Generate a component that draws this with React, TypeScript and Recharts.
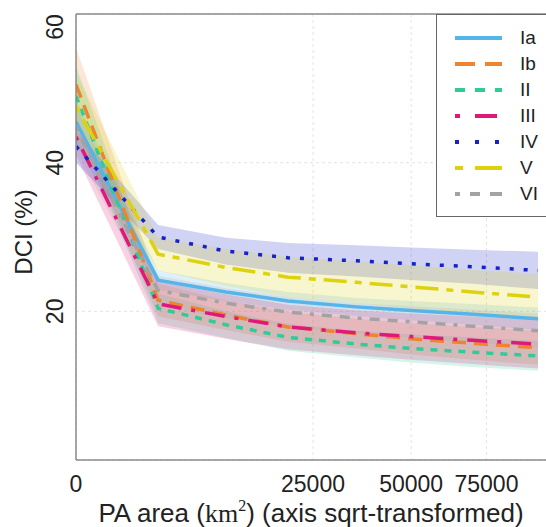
import {
  Area,
  CartesianGrid,
  ComposedChart,
  Legend,
  Line,
  ReferenceLine,
  XAxis,
  YAxis,
} from 'recharts';

// PA area (km2) at which the fitted curves are read
const paArea = [0, 3000, 10000, 20000, 35000, 50000, 70000, 95000];

// fitted DCI (%) per IUCN category
const dciIa = [45.5, 24.2, 22.6, 21.4, 20.6, 20.1, 19.6, 19.0];
const dciIb = [50.5, 21.5, 19.5, 17.9, 17.0, 16.3, 15.7, 15.1];
const dciII = [49.0, 20.4, 18.2, 16.5, 15.6, 15.0, 14.5, 14.0];
const dciIII = [43.5, 21.0, 19.3, 17.9, 17.1, 16.6, 16.1, 15.6];
const dciIV = [42.2, 30.0, 28.1, 27.2, 26.8, 26.4, 26.0, 25.5];
const dciV = [47.6, 27.7, 25.9, 24.6, 23.9, 23.3, 22.6, 21.9];
const dciVI = [44.7, 22.8, 21.1, 19.9, 19.1, 18.6, 18.0, 17.4];

// half width of the confidence ribbons
const ciIa = [3.0, 1.3, 1.2, 1.2, 1.2, 1.3, 1.4, 1.5];
const ciIb = [5.0, 2.2, 2.0, 2.0, 2.0, 2.1, 2.2, 2.3];
const ciII = [4.0, 2.0, 1.8, 1.8, 1.8, 1.9, 2.0, 2.0];
const ciIII = [2.5, 3.0, 3.0, 3.0, 3.0, 3.1, 3.2, 3.3];
const ciIV = [2.2, 1.6, 1.8, 2.0, 2.1, 2.2, 2.3, 2.5];
const ciV = [4.5, 2.2, 2.5, 2.7, 2.8, 2.9, 3.0, 3.1];
const ciVI = [3.0, 2.0, 2.0, 2.0, 2.0, 2.1, 2.2, 2.3];

const categories = ['Ia', 'Ib', 'II', 'III', 'IV', 'V', 'VI'];
const xTicks = [0, 25000, 50000, 75000];
const yTicks = [20, 40, 60];

const FONT = "'Liberation Sans', Arial, sans-serif";
const SERIF = "'Liberation Serif', 'DejaVu Serif', serif";
const PLOT_TOP = 14;
const FRAME = { stroke: '#8a8a8a', strokeWidth: 1.5 };

const styles = [
  { color: '#56B4E9', dash: undefined, legendDash: undefined },
  { color: '#EE8330', dash: '14 8', legendDash: '20 10' },
  { color: '#2FCB98', dash: '7 7', legendDash: '10 10' },
  { color: '#E0187C', dash: '4 10 20 10', legendDash: '5 15 22 15' },
  { color: '#1522C8', dash: '4 10', legendDash: '4 16' },
  { color: '#DCD20E', dash: '7 8 23 8', legendDash: '8 12 27 12' },
  { color: '#A3A3A3', dash: '4 8 10 8 10 8', legendDash: '5 10 10 10 12 10' },
];

const means = [dciIa, dciIb, dciII, dciIII, dciIV, dciV, dciVI];
const halfWidths = [ciIa, ciIb, ciII, ciIII, ciIV, ciV, ciVI];

const series = categories.map((name, k) => ({
  name,
  mean: means[k],
  ci: halfWidths[k],
  ...styles[k],
}));

const data = paArea.map((pa, i) => {
  const row: Record<string, number | number[]> = { pa };
  series.forEach((s) => {
    row[s.name] = s.mean[i];
    row[`${s.name}_ci`] = [s.mean[i] - s.ci[i], s.mean[i] + s.ci[i]];
  });
  return row;
});

function XTick({ x, y, payload }: any) {
  return (
    <text x={x} y={y + 32} textAnchor="middle" fontSize={23} fill="#222" fontFamily={FONT}>
      {payload.value}
    </text>
  );
}

function YTick({ x, y, payload }: any) {
  const cx = x - 13;
  const cy = Math.max(y, PLOT_TOP + 13);
  return (
    <text
      x={cx}
      y={cy}
      transform={`rotate(-90 ${cx} ${cy})`}
      textAnchor="middle"
      fontSize={23}
      fill="#222"
      fontFamily={FONT}
    >
      {payload.value}
    </text>
  );
}

function XTitle() {
  return (
    <text x={311} y={522} textAnchor="middle" fontSize={26} fill="#222" fontFamily={FONT}>
      PA area (
      <tspan fontFamily={SERIF}>km</tspan>
      <tspan fontFamily={SERIF} fontSize={16} dy={-11}>
        2
      </tspan>
      <tspan dy={11}>) (axis sqrt-transformed)</tspan>
    </text>
  );
}

function YTitle({ viewBox }: any) {
  const cy = viewBox.y + viewBox.height / 2 - 5;
  return (
    <text
      x={32}
      y={cy}
      transform={`rotate(-90 32 ${cy})`}
      textAnchor="middle"
      fontSize={24}
      fill="#222"
      fontFamily={FONT}
    >
      DCI (%)
    </text>
  );
}

function LegendBox() {
  return (
    <div
      style={{
        width: 200,
        height: 203,
        boxSizing: 'border-box',
        border: '1px solid #666',
        borderRight: 'none',
        background: '#fff',
        paddingTop: 10,
        fontFamily: FONT,
      }}
    >
      {series.map((s) => (
        <div key={s.name} style={{ display: 'flex', alignItems: 'center', height: 26 }}>
          <svg width={47} height={10} style={{ marginLeft: 18, flex: 'none' }}>
            <line x1={0} y1={5} x2={47} y2={5} stroke={s.color} strokeWidth={4} strokeDasharray={s.legendDash} />
          </svg>
          <span style={{ marginLeft: 18, fontSize: 19, color: '#222', lineHeight: '26px' }}>{s.name}</span>
        </div>
      ))}
    </div>
  );
}

export default function App() {
  return (
    <div
      style={{
        position: 'absolute',
        left: 0,
        top: 0,
        width: 546,
        height: 527,
        overflow: 'hidden',
        background: '#fff',
      }}
    >
      <div style={{ width: 550, height: 527 }}>
        <ComposedChart width={550} height={527} data={data} margin={{ top: PLOT_TOP, right: 0, bottom: 0, left: 0 }}>
          <CartesianGrid stroke="#e4e4e4" strokeDasharray="3 3" />
          <XAxis
            dataKey="pa"
            type="number"
            scale="sqrt"
            domain={[0, 100000]}
            ticks={xTicks}
            allowDataOverflow
            axisLine={FRAME}
            tickLine={false}
            tickSize={0}
            tickMargin={0}
            height={67}
            tick={<XTick />}
            label={<XTitle />}
          />
          <YAxis
            type="number"
            domain={[0, 60]}
            ticks={yTicks}
            allowDataOverflow
            axisLine={FRAME}
            tickLine={false}
            tickSize={0}
            tickMargin={0}
            width={76}
            tick={<YTick />}
            label={<YTitle />}
          />
          {series.map((s) => (
            <Line
              key={s.name}
              dataKey={s.name}
              type="linear"
              stroke={s.color}
              strokeWidth={3.5}
              strokeDasharray={s.dash}
              dot={false}
              activeDot={false}
              isAnimationActive={false}
            />
          ))}
          {series.map((s) => (
            <Area
              key={`${s.name}_ci`}
              dataKey={`${s.name}_ci`}
              type="linear"
              stroke="none"
              fill={s.color}
              fillOpacity={0.2}
              activeDot={false}
              legendType="none"
              isAnimationActive={false}
            />
          ))}
          <ReferenceLine y={60} {...FRAME} />
          <Legend
            layout="vertical"
            align="center"
            verticalAlign="middle"
            wrapperStyle={{ position: 'absolute', left: 436, top: PLOT_TOP, width: 200 }}
            content={<LegendBox />}
          />
        </ComposedChart>
      </div>
    </div>
  );
}
